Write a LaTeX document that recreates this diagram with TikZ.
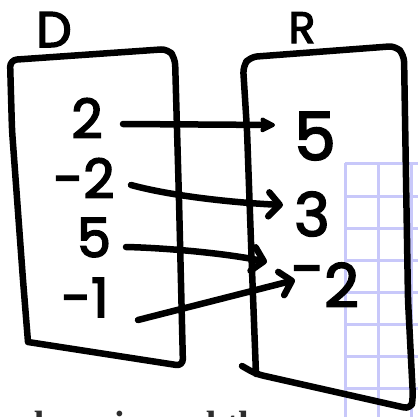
\documentclass[tikz,border=0pt]{standalone}
\usepackage{fontspec}
\newfontfamily\hand{Poppins}[FakeBold=3]
\newfontfamily\bodyserif{Liberation Serif}
\usetikzlibrary{arrows.meta}
\definecolor{gridblue}{RGB}{200,200,250}
\definecolor{bodytext}{RGB}{45,45,45}
\begin{document}
\begin{tikzpicture}[x=1pt,y=-1pt,
  pen/.style={line width=6.5pt, line cap=round, line join=round},
  boxline/.style={pen, rounded corners=7pt},
  mapline/.style={pen, -{Straight Barb[length=11pt,width=24pt,round]}},
  solidmap/.style={pen, -{Stealth[length=18pt,width=18pt,inset=3pt,round]}},
  hw/.style={inner sep=0pt, anchor=base, font=\hand\fontsize{#1}{#1}\selectfont},
  gridline/.style={draw=gridblue, line width=3pt},
]
\useasboundingbox (0,0) rectangle (418,416);
\clip (0,0) rectangle (418,416);
\fill[white] (0,0) rectangle (418,416);

% background grid
\foreach \gx in {345,378,411} \draw[gridline] (\gx,163) -- (\gx,420);
\foreach \gy in {163,196,228,260,292,324,356,388} \draw[gridline] (345,\gy) -- (420,\gy);

% cut-off body text
\node[anchor=base west, inner sep=0pt, text=bodytext,
  font=\bodyserif\bfseries\fontsize{38}{38}\selectfont] (caption) at (-3,437) {e domain and th};

% boxes
\draw[boxline] (28,342) -- (23,280) -- (12,130) -- (10,60) -- (168,49) -- (175,58)
  -- (179,200) -- (183,366) -- (28,342);
\draw[boxline] (242,366) -- (256,374) -- (411,409) -- (413,398) -- (408,300) -- (404,55)
  -- (396,46) -- (250,57) -- (243,66) -- (247,130) -- (252,270) -- (256,374);

% labels
\node[hw=50] (dlab) at (54,47) {D};
\node[hw=44] (rlab) at (302,43) {R};

% domain
\node[hw=54] (d2) at (87,138) {2};
\node[hw=54] (dm2) at (84,198) {-2};
\node[hw=54] (d5) at (94,257) {5};
\node[hw=54] (dm1) at (85,317) {-1};

% range
\node[hw=66] (r5) at (315,160) {5};
\node[hw=60] (r3) at (312,236) {3};
\node[hw=60] (rm2) at (325,307) {\raisebox{17pt}[0pt][0pt]{-}2};

% mapping arrows
\draw[solidmap] ([shift={(36,-14)}]d2.base) -- ([shift={(-40,-35)}]r5.base);
\draw[mapline] ([shift={(47,-13)}]dm2.base) .. controls +(44,12) and +(-43,-2) .. ([shift={(-29,-31)}]r3.base);
\draw[mapline] ([shift={(32,-10)}]d5.base) .. controls +(44,1) and +(-37,-8) .. ([shift={(-58,-45)}]rm2.base);
\draw[mapline] ([shift={(53,3)}]dm1.base) -- ([shift={(-30,-27)}]rm2.base);
\end{tikzpicture}
\end{document}
